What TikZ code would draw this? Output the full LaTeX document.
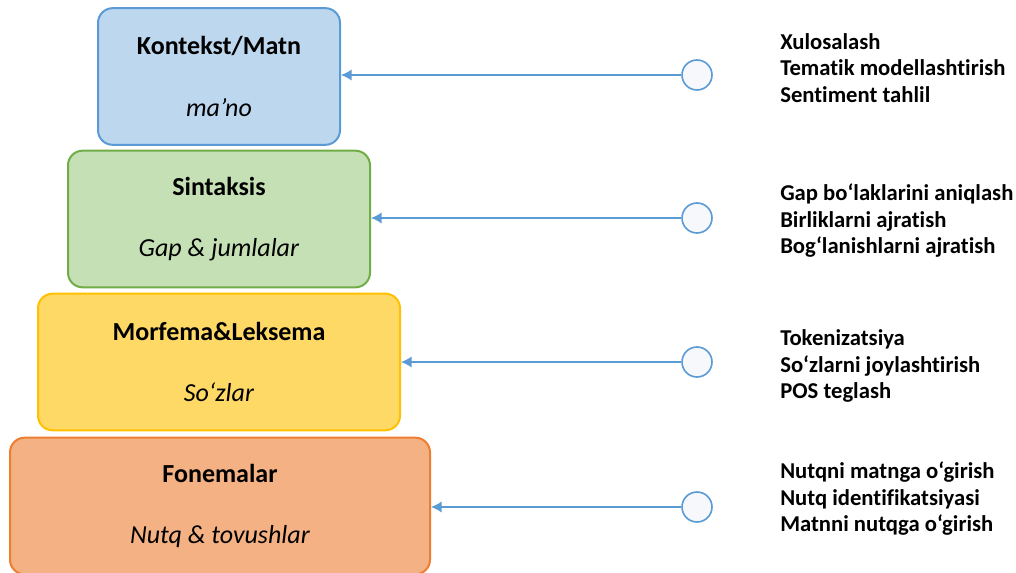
\documentclass[tikz,border=0pt]{standalone}
\usepackage{fontspec}
\setmainfont{Carlito}[Ligatures=NoCommon]
\usetikzlibrary{shapes,arrows,arrows.meta}
\usetikzlibrary{positioning}
\definecolor{bluefill}{HTML}{BDD7EE}
\definecolor{blueline}{HTML}{5B9BD5}
\definecolor{greenfill}{HTML}{C5E0B4}
\definecolor{greenline}{HTML}{70AD47}
\definecolor{yellowfill}{HTML}{FFD966}
\definecolor{yellowline}{HTML}{FFC000}
\definecolor{orangefill}{HTML}{F4B183}
\definecolor{orangeline}{HTML}{ED7D31}
\definecolor{dotfill}{HTML}{F6F8FC}
\newcommand\mylayer[5][]{%
  \node[mylayer,#1] (#2) at (#3) {\textbf{#4}\\\textit{#5}};
}

\begin{document}
\begin{tikzpicture}[x=0.75pt, y=-0.75pt, >={Latex[length=8pt,width=8.5pt]},
mylayer/.style={
  rectangle,
  rounded corners=11pt,
  line width=1.5pt,
  minimum height=102.5pt,
  align=center,
  font=\fontsize{19.5}{46}\selectfont},
mydot/.style={
  circle,
  draw=blueline,
  fill=dotfill,
  line width=1.2pt,
  minimum size=22.5pt,
  inner sep=0pt},
mylist/.style={
  anchor=west,
  align=left,
  inner sep=0pt,
  font=\fontsize{17}{19.9}\selectfont\bfseries},
myarrow/.style={->, draw=blueline, fill=blueline, line width=1.1pt}
]
\useasboundingbox (0,0) rectangle (1016,573);
\mylayer[fill=bluefill, draw=blueline, minimum width=181.5pt]{kon}{219,76.5}{Kontekst/Matn}{ma’no}
\mylayer[fill=greenfill, draw=greenline, minimum width=226.5pt]{sin}{219,219}{Sintaksis}{Gap \& jumlalar}
\mylayer[fill=yellowfill, draw=yellowline, minimum width=271.5pt]{mor}{219,362}{Morfema\&Leksema}{So‘zlar}
\mylayer[fill=orangefill, draw=orangeline, minimum width=315pt]{fon}{220,506}{Fonemalar}{Nutq \& tovushlar}
\node[mydot] (d1) at (697,75) {};
\node[mydot] (d2) at (697,218) {};
\node[mydot] (d3) at (697,362) {};
\node[mydot] (d4) at (697,507) {};
\draw [myarrow] (d1) -- (d1 -| kon.east);
\draw [myarrow] (d2) -- (d2 -| sin.east);
\draw [myarrow] (d3) -- (d3 -| mor.east);
\draw [myarrow] (d4) -- (d4 -| fon.east);
\node[mylist] (l1) at (780,68) {Xulosalash\\Tematik modellashtirish\\Sentiment tahlil};
\node[mylist] (l2) at (780,221) {Gap bo‘laklarini aniqlash\\Birliklarni ajratish\\Bog‘lanishlarni ajratish};
\node[mylist] (l3) at (780,366) {Tokenizatsiya\\So‘zlarni joylashtirish\\POS teglash};
\node[mylist] (l4) at (780,499) {Nutqni matnga o‘girish\\Nutq identifikatsiyasi\\Matnni nutqga o‘girish};
\end{tikzpicture}
\end{document}
